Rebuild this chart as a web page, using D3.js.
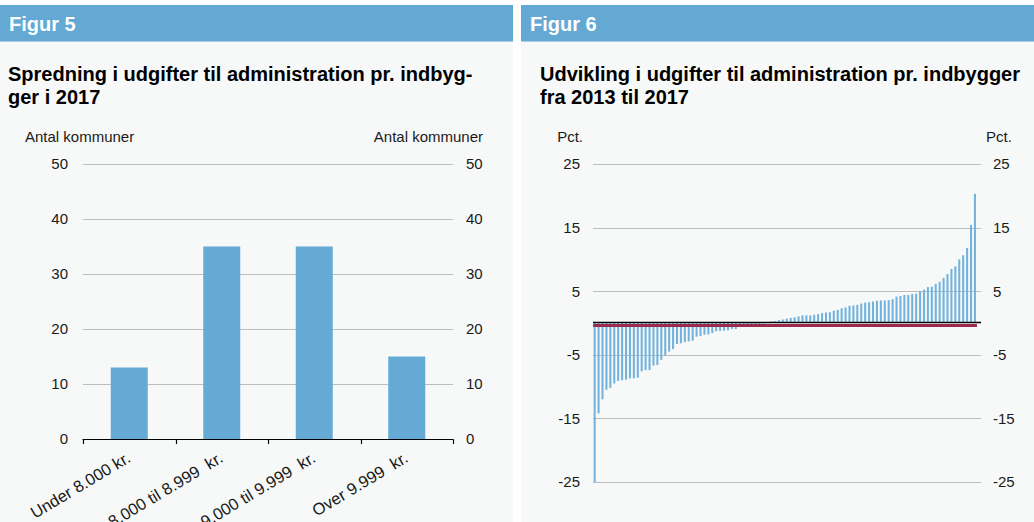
<!DOCTYPE html>
<html><head><meta charset="utf-8">
<script src="https://cdn.jsdelivr.net/npm/d3@7"></script>
<style>
body{margin:0;background:#fff;}
svg{display:block;font-family:"Liberation Sans",Arial,Helvetica,sans-serif;}
text{white-space:pre;}
</style></head><body>
<svg id="c" width="1034" height="522"></svg>
<script>
// ---- Figur 5 data ----
const fig5Categories = ["Under 8.000 kr.", "8.000 til 8.999  kr.", "9.000 til 9.999  kr.", "Over 9.999  kr."];
const fig5Values = [13, 35, 35, 15];
const fig5Ticks = [0, 10, 20, 30, 40, 50];

// ---- Figur 6 data (98 kommuner, sorted) ----
const fig6Values = [
  -25, -14.2, -12.0, -10.5, -10.2, -9.5, -9.1, -9.0, -8.9, -8.7, -8.7, -8.6, -7.6, -7.4, -7.4, -6.7, -6.6, -5.8, -5.1, -4.5, -4.1, -3.3, -3.2, -3.0, -2.9, -2.8, -2.15,
  -2.05, -1.85, -1.8, -1.6, -1.3, -1.25, -1.2, -1.15, -0.95, -0.95,
  -0.6, -0.5, -0.45, -0.35, -0.3, -0.2, -0.1, 0.05,
  0.25, 0.3, 0.45, 0.55, 0.7, 0.8,
  0.9, 1.05, 1.2, 1.2, 1.2, 1.3, 1.4, 1.55, 1.65, 1.7, 1.95, 2.05, 2.3, 2.45, 2.7, 2.75, 2.85, 3.05, 3.2, 3.25, 3.4, 3.5, 3.55, 3.55, 3.6, 3.75,
  4.15, 4.25, 4.4, 4.4, 4.55, 4.6, 5.0, 5.25, 5.65, 5.7, 6.15, 6.5, 7.1, 7.7, 8.5, 8.9, 10.0, 10.65, 11.8, 15.4, 20.3
];
const fig6Ticks = [25, 15, 5, -5, -15, -25];
const fig6RedLine = -0.4;

const svg = d3.select("#c");
const headerColor = "#63a9d4";
const panelBg = "#f7f8f8";
const gridColor = "#bdbdbd";
const textColor = "#1a1a1a";

function panel(x, w, label, titleLines, titleX) {
  svg.append("rect").attr("x", x).attr("y", 5).attr("width", w).attr("height", 517).attr("fill", panelBg);
  svg.append("rect").attr("x", x).attr("y", 5).attr("width", w).attr("height", 36.5).attr("fill", headerColor);
  svg.append("text").attr("x", x + 9).attr("y", 31).attr("fill", "#fff")
    .attr("font-size", 20).attr("font-weight", "bold").text(label);
  titleLines.forEach((t, i) => {
    svg.append("text").attr("x", titleX).attr("y", 81 + i * 23).attr("fill", "#000")
      .attr("font-size", 20).attr("font-weight", "bold").text(t);
  });
}

function styleAxis(g) {
  g.select(".domain").remove();
  g.selectAll("text").attr("font-size", 15).attr("fill", textColor)
    .attr("font-family", "Liberation Sans, Arial, sans-serif");
}

// ================= Figur 5 =================
panel(0, 513, "Figur 5", ["Spredning i udgifter til administration pr. indbyg-", "ger i 2017"], 8);

const y5 = d3.scaleLinear().domain([0, 50]).range([439, 164]);
const x5 = d3.scaleBand().domain(fig5Categories).range([83, 453]).paddingInner(0.6).paddingOuter(0.3);

svg.append("text").attr("x", 25).attr("y", 142).attr("font-size", 15).attr("fill", textColor).text("Antal kommuner");
svg.append("text").attr("x", 483).attr("y", 142).attr("font-size", 15).attr("fill", textColor)
  .attr("text-anchor", "end").text("Antal kommuner");

svg.append("g").selectAll("line").data(fig5Ticks.filter(d => d !== 0)).join("line")
  .attr("x1", 83).attr("x2", 453)
  .attr("y1", d => Math.round(y5(d)) + 0.5).attr("y2", d => Math.round(y5(d)) + 0.5)
  .attr("stroke", gridColor).attr("stroke-width", 1);

svg.append("g").attr("transform", "translate(68,0)")
  .call(d3.axisLeft(y5).tickValues(fig5Ticks).tickSize(0).tickPadding(0).tickFormat(d3.format("d")))
  .call(styleAxis);
svg.append("g").attr("transform", "translate(466,0)")
  .call(d3.axisRight(y5).tickValues(fig5Ticks).tickSize(0).tickPadding(0).tickFormat(d3.format("d")))
  .call(styleAxis);

svg.append("g").selectAll("rect").data(fig5Categories).join("rect")
  .attr("x", d => x5(d)).attr("width", x5.bandwidth())
  .attr("y", (d, i) => y5(fig5Values[i])).attr("height", (d, i) => y5(0) - y5(fig5Values[i]))
  .attr("fill", "#64aad5");

// x axis line + boundary ticks
const step5 = x5.step();
const bounds5 = d3.range(fig5Categories.length + 1).map(i => x5.range()[0] + i * step5);
svg.append("line").attr("x1", 82.5).attr("x2", 453.5).attr("y1", 439.5).attr("y2", 439.5)
  .attr("stroke", "#000").attr("stroke-width", 1.2);
svg.append("g").selectAll("line").data(bounds5).join("line")
  .attr("x1", d => Math.round(d) + 0.5).attr("x2", d => Math.round(d) + 0.5)
  .attr("y1", 439.5).attr("y2", 444).attr("stroke", "#000").attr("stroke-width", 1.2);

svg.append("g").selectAll("text").data(fig5Categories).join("text")
  .attr("transform", d => `translate(${x5(d) + x5.bandwidth() / 2 + 2.5},461) rotate(-31)`)
  .attr("text-anchor", "end").attr("font-size", 16.5).attr("fill", textColor)
  .text(d => d);

// ================= Figur 6 =================
panel(521, 513, "Figur 6", ["Udvikling i udgifter til administration pr. indbygger", "fra 2013 til 2017"], 540);

const y6 = d3.scaleLinear().domain([-25, 25]).range([482, 164]);
const idx = d3.range(1, fig6Values.length + 1);
const x6 = d3.scaleBand().domain(idx).range([592.7, 976.9]).paddingInner(0.48).paddingOuter(0.24);

svg.append("text").attr("x", 583).attr("y", 142).attr("font-size", 15).attr("fill", textColor)
  .attr("text-anchor", "end").text("Pct.");
svg.append("text").attr("x", 986).attr("y", 142).attr("font-size", 15).attr("fill", textColor).text("Pct.");

svg.append("g").selectAll("line").data(fig6Ticks).join("line")
  .attr("x1", 593).attr("x2", 981)
  .attr("y1", d => Math.round(y6(d)) + 0.5).attr("y2", d => Math.round(y6(d)) + 0.5)
  .attr("stroke", gridColor).attr("stroke-width", 1);

svg.append("g").attr("transform", "translate(580,0)")
  .call(d3.axisLeft(y6).tickValues(fig6Ticks).tickSize(0).tickPadding(0).tickFormat(d => String(d).replace("\u2212", "-")))
  .call(styleAxis);
svg.append("g").attr("transform", "translate(993,0)")
  .call(d3.axisRight(y6).tickValues(fig6Ticks).tickSize(0).tickPadding(0).tickFormat(d => String(d).replace("\u2212", "-")))
  .call(styleAxis);

svg.append("g").selectAll("rect").data(fig6Values).join("rect")
  .attr("x", (d, i) => x6(idx[i])).attr("width", x6.bandwidth())
  .attr("y", d => y6(Math.max(0, d))).attr("height", d => Math.abs(y6(d) - y6(0)))
  .attr("fill", "#72b2dd");

// red reference line
svg.append("line")
  .attr("x1", x6(idx[0]) - 0.5).attr("x2", x6(idx[idx.length - 1]) + x6.bandwidth() + 1)
  .attr("y1", y6(fig6RedLine)).attr("y2", y6(fig6RedLine))
  .attr("stroke", "#9c2a4c").attr("stroke-width", 3);

// zero line
svg.append("line").attr("x1", 593).attr("x2", 981).attr("y1", y6(0) - 0.5).attr("y2", y6(0) - 0.5)
  .attr("stroke", "#000").attr("stroke-width", 1.5);
</script>
</body></html>
